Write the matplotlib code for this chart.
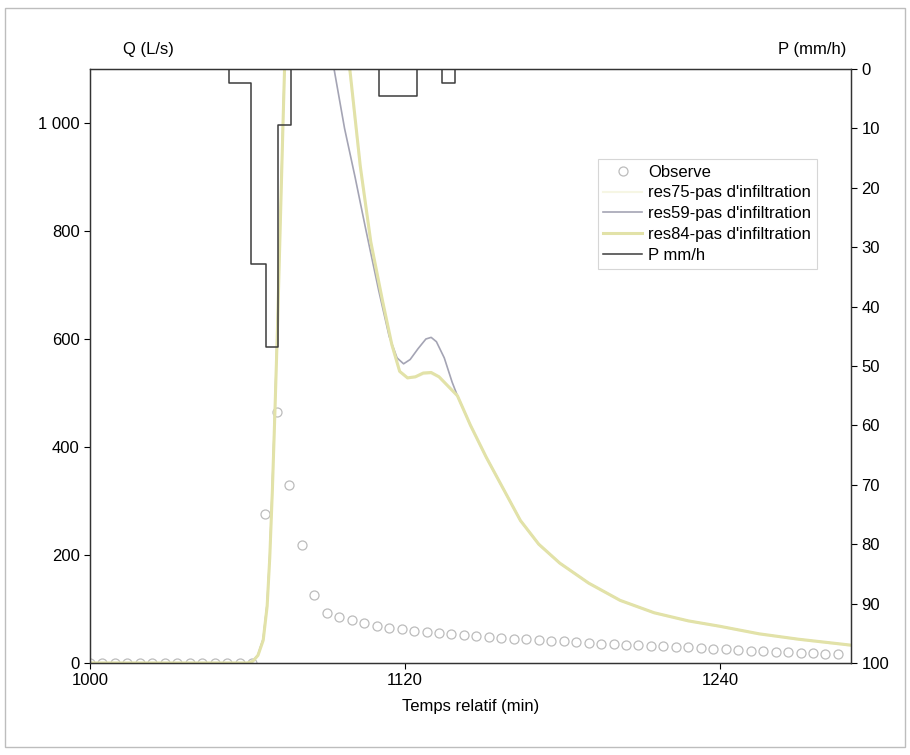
# -*- coding: utf-8 -*-

import numpy as np
import matplotlib.pyplot as plt
from matplotlib.ticker import FuncFormatter

plt.rcParams['font.family'] = ['Liberation Sans', 'DejaVu Sans']

# debit observe, pas de 4.75 min
t_obs = 1000 + 4.75 * np.arange(61)
q_obs = [0, 0, 0, 0, 0, 0, 0, 0, 0, 0, 0, 0, 0, 0,
         275, 464, 329, 218, 126,
         92, 85, 79, 74, 69, 65, 62,
         60, 58, 56, 54, 52, 50, 49, 47, 45, 44, 42, 41,
         40, 39, 37, 36, 35, 34, 33, 32, 31, 30, 29, 27, 26,
         25, 24, 23, 22, 21, 20, 19, 18, 17, 16]

# simulations
t_59 = [1000, 1060, 1062, 1064, 1066, 1067.5, 1068.5, 1069.5, 1070.5, 1071.5, 1072.5,
        1073.5, 1075, 1080, 1086, 1090, 1093, 1097, 1101, 1105, 1110, 1114, 1117,
        1119.5, 1122, 1125, 1128, 1130, 1132, 1135, 1138, 1140, 1145, 1151, 1158,
        1164, 1171, 1179, 1190, 1202, 1215, 1228, 1240, 1255, 1270, 1290]
q_59 = [0, 0, 3, 15, 45, 110, 200, 330, 480, 640, 820,
        1000, 1250, 1500, 1400, 1220, 1100, 990, 900, 805, 690, 605, 565,
        554, 562, 582, 600, 603, 595, 565, 520, 495, 440, 381, 318,
        264, 220, 185, 148, 116, 93, 78, 68, 54, 44, 33]

t_84 = [1000, 1060, 1062, 1064, 1066, 1067.5, 1068.5, 1069.5, 1070.5, 1071.5, 1072.5,
        1073.5, 1075, 1080, 1088, 1095, 1099, 1103, 1107, 1111.5, 1115, 1118,
        1121, 1124, 1127, 1130, 1133, 1136, 1140, 1145, 1151, 1158,
        1164, 1171, 1179, 1190, 1202, 1215, 1228, 1240, 1255, 1270, 1290]
q_84 = [0, 0, 3, 14, 42, 105, 195, 320, 470, 630, 810,
        990, 1250, 1600, 1700, 1350, 1100, 920, 780, 670, 590, 540,
        528, 530, 537, 538, 530, 515, 495, 440, 381, 318,
        264, 220, 185, 148, 116, 93, 78, 68, 54, 44, 33]

q_75 = [0, 0, 3, 14, 43, 107, 197, 325, 475, 635, 815,
        995, 1250, 1580, 1690, 1340, 1095, 915, 778, 668, 588, 540,
        527, 529, 535, 536, 529, 514, 494, 439, 380, 317,
        263, 219, 184, 147, 115, 92, 77, 67, 53, 43, 32]

# pluie (hyetogramme)
t_pluie = [1000, 1053, 1061.3, 1066.9, 1071.6, 1076.6, 1110.1, 1124.5, 1134.1, 1138.9, 1290]
p_pluie = [0, 2.3, 32.8, 46.8, 9.4, 0, 4.5, 0, 2.3, 0, 0]

fig = plt.figure(figsize=(9.1, 7.55), dpi=100)
ax = fig.add_axes([0.0989, 0.1219, 0.8363, 0.7867])

obs, = ax.plot(t_obs, q_obs, 'o', mfc='none', mec='#bcbcbc', ms=6.5, mew=0.9, label='Observe')
l75, = ax.plot(t_84, q_75, color='#f6f6e4', lw=1.5, label="res75-pas d'infiltration")
l59, = ax.plot(t_59, q_59, color='#a4a4b4', lw=1.2, label="res59-pas d'infiltration")
l84, = ax.plot(t_84, q_84, color='#e2e2a8', lw=2.2, label="res84-pas d'infiltration")

ax.set_xlim(1000, 1290)
ax.set_ylim(0, 1100)
ax.set_xticks([1000, 1120, 1240])
ax.set_yticks([0, 200, 400, 600, 800, 1000])
ax.yaxis.set_major_formatter(FuncFormatter(lambda v, p: '{:,.0f}'.format(v).replace(',', ' ')))
ax.tick_params(labelsize=12, length=4, width=0.8, direction='out')
ax.set_xlabel('Temps relatif (min)', fontsize=12, labelpad=8)

ax2 = ax.twinx()
lp, = ax2.step(t_pluie, p_pluie, where='post', color='#3c3c3c', lw=1.1, label='P mm/h')
ax2.set_ylim(100, 0)
ax2.set_yticks(np.arange(0, 101, 10))
ax2.tick_params(labelsize=12, length=4, width=0.8, direction='out')

for a in (ax, ax2):
    for s in a.spines.values():
        s.set_linewidth(0.9)
        s.set_color('#333333')

fig.text(0.163, 0.935, 'Q (L/s)', fontsize=12, ha='center', va='center')
fig.text(0.893, 0.935, 'P (mm/h)', fontsize=12, ha='center', va='center')

leg = ax2.legend([obs, l75, l59, l84, lp],
                 [h.get_label() for h in (obs, l75, l59, l84, lp)],
                 loc='upper left', bbox_to_anchor=(0.656, 0.863),
                 fontsize=12, frameon=True, fancybox=False,
                 handlelength=2.3, handletextpad=0.4, borderpad=0.35, labelspacing=0.35)
leg.get_frame().set_edgecolor('#cccccc')
leg.get_frame().set_linewidth(0.8)

# cadre autour de la figure
fig.patches.append(plt.Rectangle((0.006, 0.01), 0.988, 0.98, transform=fig.transFigure,
                                 fill=False, ec='#bdbdbd', lw=1))

fig.savefig('out.png', dpi=100)
